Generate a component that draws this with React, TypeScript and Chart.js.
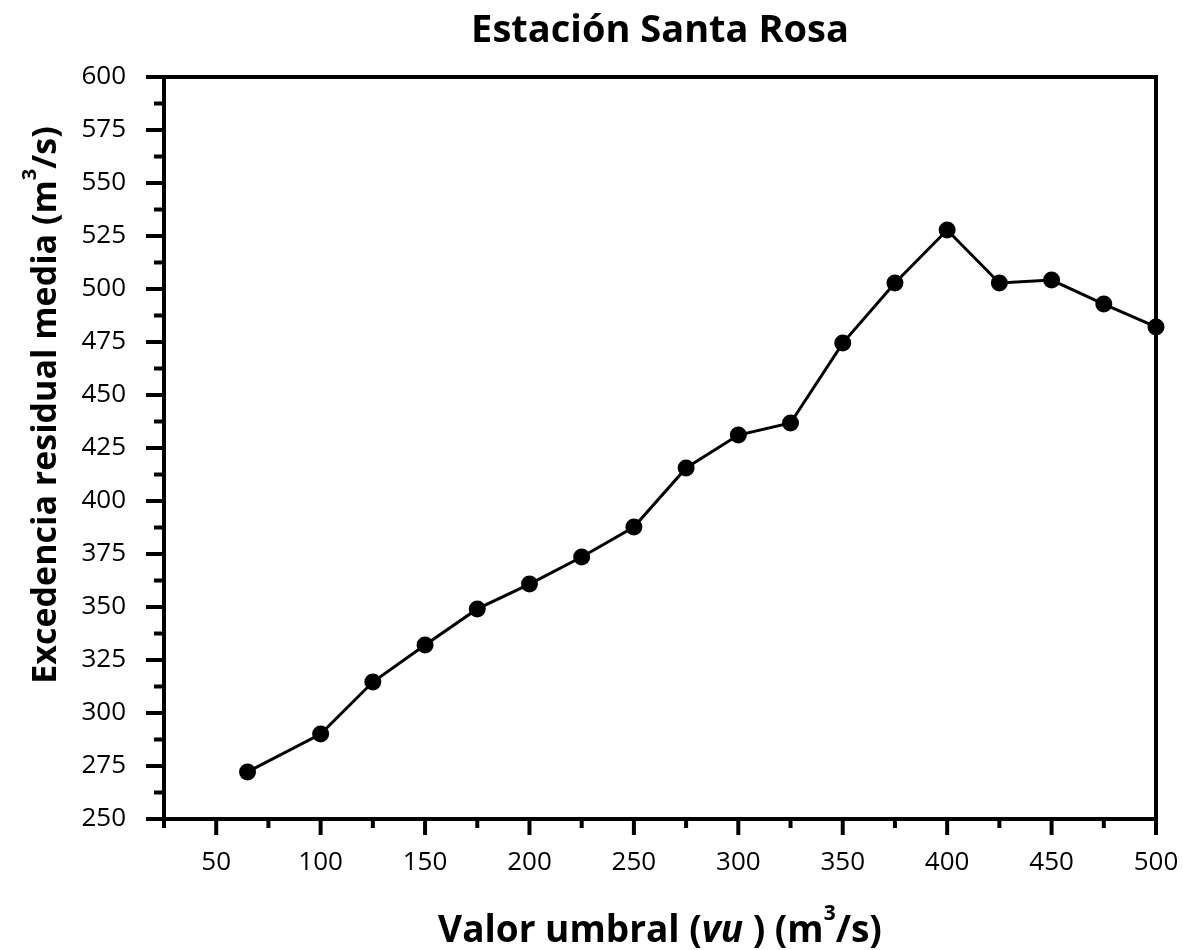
import React, { useEffect, useRef } from "react";
import { Chart, registerables } from "chart.js";

Chart.register(...registerables);

const titleText = "Estación Santa Rosa";
const xValues = [65, 100, 125, 150, 175, 200, 225, 250, 275, 300, 325, 350, 375, 400, 425, 450, 475, 500];
const yValues = [272.2, 290.1, 314.6, 332.1, 349.1, 360.8, 373.6, 387.7, 415.6, 431.1, 436.8, 474.5, 502.8, 527.8, 502.8, 504.2, 492.9, 482.1];
const xMajorTicks = [50, 100, 150, 200, 250, 300, 350, 400, 450, 500];
const xMinorTicks = [25, 75, 125, 175, 225, 275, 325, 375, 425, 475];
const yMajorTicks = [250, 275, 300, 325, 350, 375, 400, 425, 450, 475, 500, 525, 550, 575, 600];
const yMinorTicks = [262.5, 287.5, 312.5, 337.5, 362.5, 387.5, 412.5, 437.5, 462.5, 487.5, 512.5, 537.5, 562.5, 587.5];

type Seg = { t: string; italic?: boolean; sup?: boolean };
const xTitleSegs: Seg[] = [
  { t: "Valor umbral (" },
  { t: "vu", italic: true },
  { t: " ) (m" },
  { t: "3", sup: true },
  { t: "/s)" },
];
const yTitleSegs: Seg[] = [
  { t: "Excedencia residual media (m" },
  { t: "3", sup: true },
  { t: "/s)" },
];

const FONT = '"Open Sans", "DejaVu Sans", sans-serif';

function drawSegs(ctx: CanvasRenderingContext2D, segs: Seg[], cx: number, baseline: number, size: number) {
  const fontFor = (s: Seg) =>
    s.sup ? `bold ${Math.round(size * 0.58)}px ${FONT}` : `${s.italic ? "italic " : ""}bold ${size}px ${FONT}`;
  let total = 0;
  const widths = segs.map((s) => {
    ctx.font = fontFor(s);
    const w = ctx.measureText(s.t).width;
    total += w;
    return w;
  });
  let x = cx - total / 2;
  ctx.textAlign = "left";
  ctx.textBaseline = "alphabetic";
  segs.forEach((s, i) => {
    ctx.font = fontFor(s);
    ctx.fillText(s.t, x, s.sup ? baseline - size * 0.6 : baseline);
    x += widths[i];
  });
}

const decoPlugin = {
  id: "deco",
  afterDraw(chart: any) {
    const { ctx, chartArea: a, scales } = chart;
    const xs = scales.x;
    const ys = scales.y;
    ctx.save();
    ctx.strokeStyle = "#000";
    ctx.fillStyle = "#000";
    ctx.lineWidth = 4;
    ctx.lineCap = "butt";
    ctx.strokeRect(a.left, a.top, a.right - a.left, a.bottom - a.top);
    const line = (x1: number, y1: number, x2: number, y2: number) => {
      ctx.beginPath();
      ctx.moveTo(x1, y1);
      ctx.lineTo(x2, y2);
      ctx.stroke();
    };
    xMajorTicks.forEach((v) => {
      const p = xs.getPixelForValue(v);
      line(p, a.bottom, p, a.bottom + 16);
    });
    xMinorTicks.forEach((v) => {
      const p = xs.getPixelForValue(v);
      line(p, a.bottom, p, a.bottom + 9);
    });
    yMajorTicks.forEach((v) => {
      const p = ys.getPixelForValue(v);
      line(a.left, p, a.left - 18, p);
    });
    yMinorTicks.forEach((v) => {
      const p = ys.getPixelForValue(v);
      line(a.left, p, a.left - 10, p);
    });
    // titles
    const cx = (a.left + a.right) / 2;
    ctx.font = `bold 38px ${FONT}`;
    ctx.textAlign = "center";
    ctx.textBaseline = "alphabetic";
    ctx.fillText(titleText, cx, 42);
    drawSegs(ctx, xTitleSegs, cx, 942, 37);
    ctx.translate(56, 405);
    ctx.rotate(-Math.PI / 2);
    drawSegs(ctx, yTitleSegs, 0, 0, 34);
    ctx.restore();
  },
};

export default function App() {
  const ref = useRef<HTMLCanvasElement | null>(null);
  useEffect(() => {
    if (!ref.current) return;
    const chart = new Chart(ref.current, {
      type: "line",
      data: {
        datasets: [
          {
            data: xValues.map((x, i) => ({ x, y: yValues[i] })),
            borderColor: "#000",
            backgroundColor: "#000",
            borderWidth: 3,
            pointRadius: 8.5,
            pointBackgroundColor: "#000",
            pointBorderColor: "#000",
            pointBorderWidth: 0,
            tension: 0,
            clip: false as any,
          },
        ],
      },
      options: {
        animation: false,
        responsive: false,
        layout: { padding: { top: 77, right: 27, left: 0, bottom: 0 } },
        plugins: { legend: { display: false }, tooltip: { enabled: false }, title: { display: false } },
        scales: {
          x: {
            type: "linear",
            min: 25,
            max: 500,
            grid: { display: false },
            border: { display: false },
            afterBuildTicks: (s: any) => {
              s.ticks = xMajorTicks.map((v) => ({ value: v }));
            },
            afterFit: (s: any) => {
              s.height = 131;
              s.paddingLeft = 0;
              s.paddingRight = 0;
            },
            ticks: {
              autoSkip: false,
              maxRotation: 0,
              padding: 20,
              color: "#000",
              font: { family: FONT, size: 26 },
            },
          },
          y: {
            type: "linear",
            min: 250,
            max: 600,
            grid: { display: false },
            border: { display: false },
            afterBuildTicks: (s: any) => {
              s.ticks = yMajorTicks.map((v) => ({ value: v }));
            },
            afterFit: (s: any) => {
              s.width = 164;
              s.paddingTop = 0;
              s.paddingBottom = 0;
            },
            ticks: {
              autoSkip: false,
              padding: 30,
              color: "#000",
              font: { family: FONT, size: 26 },
            },
          },
        },
      },
      plugins: [decoPlugin],
    });
    return () => chart.destroy();
  }, []);
  return (
    <div style={{ position: "absolute", left: 0, top: 0, width: 1183, height: 950, background: "#fff" }}>
      <canvas ref={ref} width={1183} height={950} />
    </div>
  );
}
